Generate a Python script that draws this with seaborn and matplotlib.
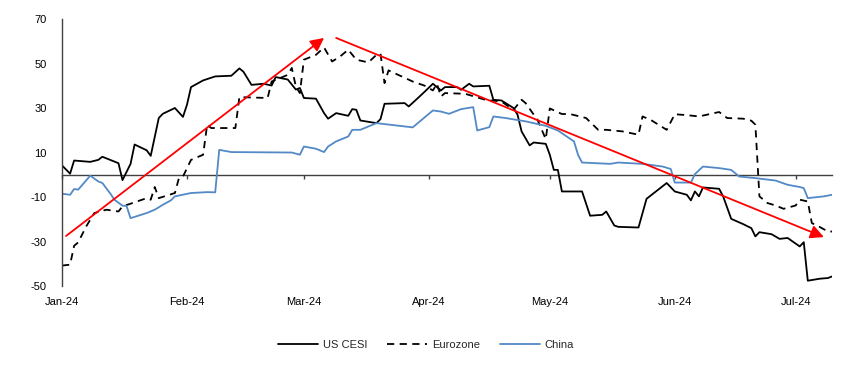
import pandas as pd
import seaborn as sns
import matplotlib.pyplot as plt
import matplotlib.dates as mdates

# economic surprise indices
us_dates = ['2024-01-01', '2024-01-03', '2024-01-04', '2024-01-08', '2024-01-10', '2024-01-11',
            '2024-01-15', '2024-01-16', '2024-01-18', '2024-01-19', '2024-01-22', '2024-01-23',
            '2024-01-25', '2024-01-26', '2024-01-29', '2024-01-31', '2024-02-01', '2024-02-02',
            '2024-02-05', '2024-02-08', '2024-02-12', '2024-02-14', '2024-02-15', '2024-02-17',
            '2024-02-20', '2024-02-22', '2024-02-23', '2024-02-26', '2024-02-28', '2024-02-29',
            '2024-03-01', '2024-03-04', '2024-03-06', '2024-03-07', '2024-03-09', '2024-03-12',
            '2024-03-13', '2024-03-14', '2024-03-15', '2024-03-19', '2024-03-20', '2024-03-21',
            '2024-03-26', '2024-03-27', '2024-03-29', '2024-03-31', '2024-04-02', '2024-04-04',
            '2024-04-05', '2024-04-08', '2024-04-09', '2024-04-11', '2024-04-12', '2024-04-16',
            '2024-04-17', '2024-04-19', '2024-04-22', '2024-04-23', '2024-04-24', '2024-04-26',
            '2024-04-27', '2024-04-30', '2024-05-01', '2024-05-02', '2024-05-03', '2024-05-04',
            '2024-05-09', '2024-05-11', '2024-05-14', '2024-05-15', '2024-05-17', '2024-05-18',
            '2024-05-23', '2024-05-25', '2024-05-30', '2024-06-01', '2024-06-04', '2024-06-05',
            '2024-06-06', '2024-06-07', '2024-06-08', '2024-06-12', '2024-06-13', '2024-06-15',
            '2024-06-18', '2024-06-20', '2024-06-21', '2024-06-22', '2024-06-25', '2024-06-27',
            '2024-06-29', '2024-07-02', '2024-07-03', '2024-07-04', '2024-07-07', '2024-07-09',
            '2024-07-10']
us_values = [4.2, 0.5, 6.4, 5.8, 6.7, 8.1,
             5.2, -2.4, 4.9, 13.6, 11.0, 8.5,
             25.5, 27.4, 30.0, 26.0, 31.5, 39.4,
             42.4, 44.2, 44.5, 47.8, 46.3, 40.4,
             40.9, 40.1, 43.9, 42.8, 38.3, 39.0,
             34.5, 34.2, 27.7, 25.2, 27.7, 26.5,
             29.5, 29.2, 24.4, 23.2, 25.0, 31.9,
             32.2, 30.7, 34.0, 37.4, 40.9, 37.9,
             39.4, 39.4, 38.2, 40.9, 39.7, 40.0,
             33.7, 33.4, 30.0, 27.0, 19.5, 13.2,
             14.5, 13.9, 9.0, 2.2, 2.2, -7.5,
             -7.5, -18.4, -18.0, -16.5, -22.8, -23.4,
             -23.7, -10.8, -3.7, -7.5, -9.0, -11.5,
             -7.5, -9.7, -5.7, -6.3, -9.7, -19.8,
             -22.2, -24.0, -27.7, -25.8, -26.7, -28.8,
             -28.4, -32.2, -30.3, -47.6, -46.7, -46.4,
             -45.7]

ez_dates = ['2024-01-01', '2024-01-03', '2024-01-04', '2024-01-05', '2024-01-07', '2024-01-09',
            '2024-01-12', '2024-01-15', '2024-01-16', '2024-01-18', '2024-01-22', '2024-01-23',
            '2024-01-24', '2024-01-25', '2024-01-29', '2024-01-30', '2024-01-31', '2024-02-02',
            '2024-02-05', '2024-02-06', '2024-02-07', '2024-02-13', '2024-02-14', '2024-02-21',
            '2024-02-22', '2024-02-26', '2024-02-27', '2024-02-28', '2024-02-29', '2024-03-01',
            '2024-03-04', '2024-03-06', '2024-03-08', '2024-03-10', '2024-03-12', '2024-03-14',
            '2024-03-17', '2024-03-19', '2024-03-20', '2024-03-21', '2024-03-22', '2024-03-28',
            '2024-03-31', '2024-04-02', '2024-04-03', '2024-04-04', '2024-04-05', '2024-04-10',
            '2024-04-15', '2024-04-19', '2024-04-22', '2024-04-24', '2024-04-25', '2024-04-28',
            '2024-04-30', '2024-05-01', '2024-05-04', '2024-05-06', '2024-05-10', '2024-05-13',
            '2024-05-15', '2024-05-19', '2024-05-23', '2024-05-24', '2024-05-26', '2024-05-30',
            '2024-06-01', '2024-06-04', '2024-06-07', '2024-06-12', '2024-06-14', '2024-06-18',
            '2024-06-20', '2024-06-21', '2024-06-22', '2024-06-24', '2024-06-26', '2024-06-28',
            '2024-07-01', '2024-07-02', '2024-07-04', '2024-07-05', '2024-07-07', '2024-07-09',
            '2024-07-10']
ez_values = [-40.8, -40.4, -31.9, -30.4, -23.2, -17.2,
             -15.7, -16.5, -14.2, -13.0, -10.5, -11.2,
             -5.5, -10.5, -8.2, -1.5, -0.8, 6.7,
             9.0, 22.5, 21.0, 21.0, 34.9, 34.5,
             41.9, 44.9, 48.0, 39.7, 36.7, 51.7,
             53.9, 57.2, 50.9, 53.2, 56.2, 51.7,
             50.5, 53.9, 54.4, 41.2, 46.9, 41.9,
             40.0, 37.9, 40.9, 35.2, 36.7, 36.4,
             33.7, 32.9, 29.2, 33.7, 32.2, 24.5,
             16.0, 29.8, 27.3, 27.3, 25.5, 20.2,
             20.2, 19.5, 18.0, 26.2, 24.7, 20.2,
             27.2, 26.8, 26.2, 28.2, 25.5, 25.2,
             24.3, 22.5, -9.7, -12.7, -13.8, -15.3,
             -13.8, -11.2, -12.0, -21.7, -23.5, -25.5,
             -25.5]

cn_dates = ['2024-01-01', '2024-01-03', '2024-01-04', '2024-01-05', '2024-01-08', '2024-01-10',
            '2024-01-11', '2024-01-13', '2024-01-14', '2024-01-16', '2024-01-17', '2024-01-18',
            '2024-01-22', '2024-01-24', '2024-01-26', '2024-01-28', '2024-01-29', '2024-02-02',
            '2024-02-06', '2024-02-08', '2024-02-09', '2024-02-12', '2024-02-27', '2024-02-29',
            '2024-03-01', '2024-03-04', '2024-03-06', '2024-03-07', '2024-03-09', '2024-03-12',
            '2024-03-13', '2024-03-15', '2024-03-19', '2024-03-28', '2024-04-02', '2024-04-04',
            '2024-04-06', '2024-04-09', '2024-04-12', '2024-04-13', '2024-04-16', '2024-04-17',
            '2024-04-20', '2024-04-25', '2024-04-30', '2024-05-03', '2024-05-07', '2024-05-08',
            '2024-05-09', '2024-05-16', '2024-05-18', '2024-05-24', '2024-05-29', '2024-05-31',
            '2024-06-01', '2024-06-05', '2024-06-06', '2024-06-08', '2024-06-12', '2024-06-15',
            '2024-06-17', '2024-06-21', '2024-06-26', '2024-06-29', '2024-07-02', '2024-07-03',
            '2024-07-04', '2024-07-08', '2024-07-10']
cn_values = [-8.5, -9.0, -6.4, -6.7, -0.4, -3.0,
             -3.7, -8.5, -11.2, -13.9, -14.0, -19.5,
             -17.2, -15.7, -13.5, -11.5, -9.7, -8.2,
             -7.8, -7.9, 11.2, 10.2, 10.0, 9.0,
             12.7, 11.7, 10.2, 12.7, 15.0, 17.2,
             20.2, 20.2, 23.2, 21.3, 28.9, 28.4,
             27.4, 29.5, 30.4, 19.9, 21.4, 26.2,
             25.5, 24.0, 22.0, 19.9, 15.0, 9.0,
             5.5, 4.9, 5.5, 4.9, 3.7, 2.6,
             -3.5, -3.5, 0.3, 3.7, 3.0, 2.2,
             -0.8, -1.5, -2.6, -4.5, -5.5, -6.0,
             -10.5, -9.7, -9.0]

# trend arrows (start, end)
arrow_up = [('2024-01-02', -27.5), ('2024-03-06', 61.5)]
arrow_down = [('2024-03-09', 61.5), ('2024-07-08', -28.0)]

month_ticks = pd.date_range('2024-01-01', '2024-07-01', freq='MS')
y_ticks = [-50, -30, -10, 10, 30, 50, 70]

sns.set_style('white')
plt.rcParams['font.family'] = ['Liberation Sans', 'DejaVu Sans']
plt.rcParams['axes.unicode_minus'] = False

fig, ax = plt.subplots(figsize=(8.52, 3.71), dpi=100)
fig.subplots_adjust(left=0.0728, right=0.9765, top=0.9488, bottom=0.229)

sns.lineplot(x=pd.to_datetime(us_dates), y=us_values, ax=ax, color='black',
             lw=1.3, label='US CESI')
sns.lineplot(x=pd.to_datetime(ez_dates), y=ez_values, ax=ax, color='black',
             lw=1.3, linestyle=(0, (4, 3)), label='Eurozone')
sns.lineplot(x=pd.to_datetime(cn_dates), y=cn_values, ax=ax, color='#5289C6',
             lw=1.3, label='China')

for start, end in (arrow_up, arrow_down):
    ax.annotate('', xy=(pd.Timestamp(end[0]), end[1]),
                xytext=(pd.Timestamp(start[0]), start[1]),
                arrowprops=dict(arrowstyle='-|>,head_length=0.5,head_width=0.25',
                                color='red', lw=1.3, mutation_scale=16,
                                shrinkA=0, shrinkB=0))

ymin, ymax = -50, 70
ax.set_ylim(ymin, ymax)
ax.set_xlim(pd.Timestamp('2024-01-01'), pd.Timestamp('2024-07-10'))
ax.set_yticks(y_ticks)
ax.set_xticks(month_ticks)
ax.xaxis.set_major_formatter(mdates.DateFormatter('%b-%y'))
ax.set_xlabel('')
ax.set_ylabel('')

for side in ['top', 'right', 'bottom']:
    ax.spines[side].set_visible(False)
ax.spines['left'].set_color('#404040')
ax.spines['left'].set_linewidth(1.0)
ax.tick_params(axis='y', direction='out', length=4, width=1, color='#404040',
               labelsize=8, pad=7, labelcolor='black')
ax.tick_params(axis='x', length=0, labelsize=8, pad=8, labelcolor='black')

# horizontal axis line crossing at zero, with month tick marks
zero_axis = ax.secondary_xaxis((0 - ymin) / (ymax - ymin))
zero_axis.set_xticks(mdates.date2num(month_ticks))
zero_axis.tick_params(axis='x', direction='out', length=3, width=1, color='#404040',
                      labelbottom=False, labeltop=False)
zero_axis.spines['bottom'].set_color('#404040')
zero_axis.spines['bottom'].set_linewidth(1.0)

ax.legend(loc='lower center', bbox_to_anchor=(0.5, 0.03), bbox_transform=fig.transFigure,
          ncol=3, frameon=False, fontsize=8, handlelength=3.6, columnspacing=1.8,
          handletextpad=0.4)

plt.savefig('out.png', dpi=100)
